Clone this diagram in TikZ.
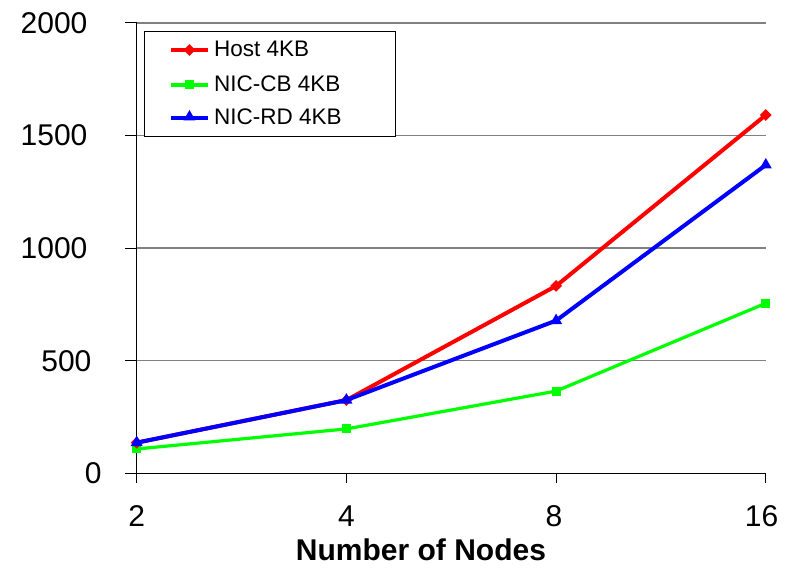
\documentclass[tikz,border=0pt]{standalone}
\usepackage{fontspec}
\setmainfont{Liberation Sans}
\usetikzlibrary{shapes.geometric}

\definecolor{hostred}{RGB}{255,0,0}
\definecolor{cbgreen}{RGB}{0,255,0}
\definecolor{rdblue}{RGB}{0,0,255}
\definecolor{gridgray}{RGB}{128,128,128}

\tikzset{
  ticklabel/.style={font=\fontsize{30}{36}\selectfont, inner sep=0pt},
  axislabel/.style={font=\fontsize{30}{36}\selectfont\bfseries, inner sep=0pt},
  legendtext/.style={font=\fontsize{22.5}{27}\selectfont, inner sep=0pt, anchor=base west},
  gridline/.style={draw=gridgray, line width=1.3pt},
  axisline/.style={draw=black, line width=1pt},
  hostline/.style={draw=hostred, line width=4pt, line join=round},
  cbline/.style={draw=cbgreen, line width=3.2pt, line join=round},
  rdline/.style={draw=rdblue, line width=4pt, line join=round},
  hostmark/.style={diamond, fill=hostred, inner sep=0pt, minimum width=12pt, minimum height=12pt},
  cbmark/.style={rectangle, fill=cbgreen, inner sep=0pt, minimum size=9pt},
  rdmark/.style={regular polygon, regular polygon sides=3, fill=rdblue, inner sep=0pt, minimum size=14pt},
}

\begin{document}
\begin{tikzpicture}[x=1pt,y=1pt]
  \useasboundingbox (0,0) rectangle (788,572);
  \fill[white] (0,0) rectangle (788,572);

  % plot area: origin at (136.7,98.7), one category step 209.7pt, 1 unit = 0.2252pt
  \begin{scope}[shift={(136.7,98.7)}, x=209.7pt, y=0.2252pt]
    % horizontal grid lines with their left ticks
    \foreach \v in {500,1000,1500,2000} {
      \draw[gridline] (0,\v) -- (3.003,\v);
      \draw[axisline] (-0.055,\v) -- (0,\v);
    }
    % axes
    \draw[axisline] (-0.055,0) -- (3.003,0);
    \draw[axisline] (0,-43) -- (0,2000);
    \foreach \i in {1,2,3} {
      \draw[axisline] (\i,0) -- (\i,-43);
    }

    % y tick labels
    \node[ticklabel, anchor=base east] (y2000) at (-0.234,1954) {2000};
    \node[ticklabel, anchor=base east] (y1500) at (-0.234,1454) {1500};
    \node[ticklabel, anchor=base east] (y1000) at (-0.234,954) {1000};
    \node[ticklabel, anchor=base east] (y500)  at (-0.215,454) {500};
    \node[ticklabel, anchor=base east] (y0)    at (-0.167,-46) {0};

    % x tick labels
    \node[ticklabel, anchor=base] (x2)  at (0,-237) {2};
    \node[ticklabel, anchor=base] (x4)  at (1,-237) {4};
    \node[ticklabel, anchor=base] (x8)  at (1.99,-237) {8};
    \node[ticklabel, anchor=base] (x16) at (2.98,-237) {16};

    % data points
    \coordinate (h1) at (0,136);  \coordinate (h2) at (1,325);
    \coordinate (h3) at (2,832);  \coordinate (h4) at (3,1591);
    \coordinate (c1) at (0,108);  \coordinate (c2) at (1,197);
    \coordinate (c3) at (2,365);  \coordinate (c4) at (3,755);
    \coordinate (r1) at (0,136);  \coordinate (r2) at (1,325);
    \coordinate (r3) at (2,678);  \coordinate (r4) at (3,1369);

    % series
    \draw[cbline] (c1) -- (c2) -- (c3) -- (c4);
    \foreach \p in {c1,c2,c3,c4} \node[cbmark] (m\p) at (\p) {};
    \draw[hostline] (h1) -- (h2) -- (h3) -- (h4);
    \foreach \p in {h1,h2,h3,h4} \node[hostmark] (m\p) at (\p) {};
    \draw[rdline] (r1) -- (r2) -- (r3) -- (r4);
    \foreach \p in {r1,r2,r3,r4} \node[rdmark] (m\p) at (\p) {};
  \end{scope}

  % x axis title
  \node[axislabel, anchor=base] (xtitle) at (421,11.3) {Number of Nodes};

  % legend
  \draw[fill=white, line width=1pt] (144,540.3) rectangle (395,435.3);
  \coordinate (la1) at (171,522); \coordinate (lb1) at (208,522);
  \coordinate (la2) at (171,487); \coordinate (lb2) at (208,487);
  \coordinate (la3) at (171,454); \coordinate (lb3) at (208,454);
  \draw[hostline] (la1) -- (lb1);
  \node[hostmark] (lm1) at (189.5,522) {};
  \node[legendtext] (lt1) at (214,515.3) {Host 4KB};
  \draw[cbline] (la2) -- (lb2);
  \node[cbmark] (lm2) at (189.5,487) {};
  \node[legendtext] (lt2) at (214,480.3) {NIC-CB 4KB};
  \draw[rdline] (la3) -- (lb3);
  \node[rdmark] (lm3) at (189.5,455) {};
  \node[legendtext] (lt3) at (214,447.3) {NIC-RD 4KB};
\end{tikzpicture}
\end{document}
